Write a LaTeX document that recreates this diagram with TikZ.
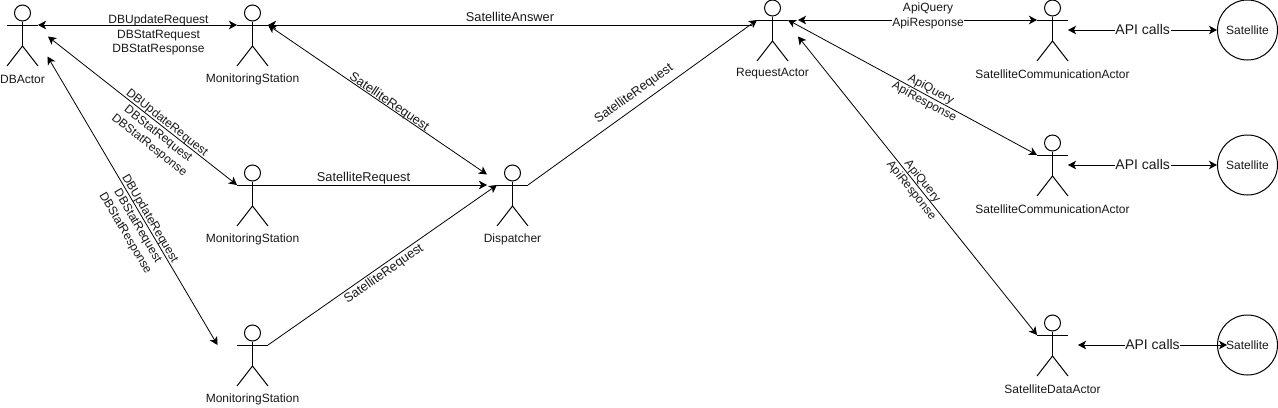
\documentclass[tikz,border=0pt]{standalone}
\usepackage{fontspec}
\setmainfont{Liberation Sans}
\usetikzlibrary{arrows.meta}
\tikzset{
  x=0.75pt,y=-0.75pt,
  every path/.style={line width=0.75pt},
  limb/.style={draw=black,line width=0.75pt},
  conn/.style={draw=black,line width=0.6pt},
  both/.style={conn,{Stealth[length=6pt,width=6.4pt,inset=1.6pt]}-{Stealth[length=6pt,width=6.4pt,inset=1.6pt]}},
  tipend/.style={conn,-{Stealth[length=6pt,width=6.4pt,inset=1.6pt]}},
  tipstart/.style={conn,{Stealth[length=6pt,width=6.4pt,inset=1.6pt]}-},
  head/.style={circle,draw=black,line width=0.75pt,minimum size=12pt,inner sep=0pt},
  txt/.style={inner sep=0pt,align=center,font=\fontsize{9}{10.7}\selectfont,text=black!90},
  bigtxt/.style={inner sep=0pt,align=center,font=\fontsize{9.6}{11}\selectfont,text=black!90},
  bgtxt/.style={txt,fill=white},
  apitxt/.style={inner sep=0.5pt,align=center,fill=white,font=\fontsize{10.5}{12}\selectfont,text=black!90},
  sat/.style={circle,draw=black,line width=0.75pt,minimum size=45pt,inner sep=0pt,font=\fontsize{9}{10.7}\selectfont,text=black!90},
}
% name, x of body, y of arms, label
\newcommand{\stickman}[4]{%
  \node[head] (#1) at (#2,#3-12) {};
  \coordinate (#1-l) at (#2-15.5,#3);
  \coordinate (#1-r) at (#2+15.5,#3);
  \coordinate (#1-hip) at (#2,#3+21);
  \draw[limb] (#1.south) -- (#1-hip);
  \draw[limb] (#1-l) -- (#1-r);
  \draw[limb] (#2-15.5,#3+41) -- (#1-hip) -- (#2+15.5,#3+41);
  \node[txt] (#1-label) at (#2,#3+54) {#4};
}
\begin{document}
\begin{tikzpicture}
\useasboundingbox (0,0) rectangle (1278,407);
\fill[white] (0,0) rectangle (1278,407);

\stickman{db}{22.5}{25}{DBActor}
\stickman{ms1}{252.5}{25}{MonitoringStation}
\stickman{ms2}{252.5}{185}{MonitoringStation}
\stickman{ms3}{252.5}{345}{MonitoringStation}
\stickman{disp}{512.5}{185}{Dispatcher}
\stickman{ra}{772.5}{20}{RequestActor}
\stickman{sca1}{1052.5}{20}{SatelliteCommunicationActor}
\stickman{sca2}{1052.5}{155}{SatelliteCommunicationActor}
\stickman{sda}{1052.5}{335}{SatelliteDataActor}

\node[sat] (s1) at (1247.5,30) {Satellite};
\node[sat] (s2) at (1247.5,165) {Satellite};
\node[sat] (s3) at (1247.5,345) {Satellite};

% free ends of connectors
\coordinate (dbB) at (48,36.5);
\coordinate (dbC) at (47.5,56.5);
\coordinate (ms2in) at (237,185);
\coordinate (ms3in) at (217.5,345);
\coordinate (dispA) at (487,174.5);
\coordinate (dispB) at (487,185);
\coordinate (raA) at (752,25);
\coordinate (ms1a) at (268,25);
\coordinate (raB) at (798,20);
\coordinate (raC) at (798,36.5);
\coordinate (sca1a) at (1068,30);
\coordinate (sca2a) at (1068,165);
\coordinate (sdaA) at (1078,345);
\coordinate (s1a) at (1217,30);
\coordinate (s2a) at (1217,165);
\coordinate (s3a) at (1227,345);

% connectors
\draw[both] (db-r) -- (ms1-l);
\draw[both] (dbB) -- (ms2in);
\draw[both] (dbC) -- (ms3in);
\draw[tipstart] (ms1a) -- (raA);
\draw[both] (ms1a) -- (dispA);
\draw[tipend] (ms2-r) -- (dispB);
\draw[tipend] (ms3-r) -- (disp-l);
\draw[tipend] (disp-r) -- (ra-l);
\draw[both] (raB) -- (sca1-l);
\draw[both] (ra-r) -- (sca2-l);
\draw[both] (raC) -- (sda-l);
\draw[both] (sca1a) -- (s1a);
\draw[both] (sca2a) -- (s2a);
\draw[both] (sdaA) -- (s3a);

% labels
\node[txt] (l1) at (158.5,35) {DBUpdateRequest\\DBStatRequest\\DBStatResponse};
\node[txt,rotate=-38.3] (l2) at (158,134) {DBUpdateRequest\\DBStatRequest\\DBStatResponse};
\node[txt,rotate=-59.6] (l3) at (137.5,226) {DBUpdateRequest\\DBStatRequest\\DBStatResponse};
\node[bigtxt] (l4) at (510,17) {SatelliteAnswer};
\node[bigtxt,rotate=-34.4] (l5) at (389,102) {SatelliteRequest};
\node[bigtxt] (l6) at (363.5,178.5) {SatelliteRequest};
\node[bigtxt,rotate=35] (l7) at (384,274) {SatelliteRequest};
\node[bigtxt,rotate=35.8] (l8) at (634,94) {SatelliteRequest};
\node[bgtxt] (l9) at (928,16) {ApiQuery\\ApiResponse};
\node[txt,rotate=-28.5] (l10) at (927.5,96) {ApiQuery\\ApiResponse};
\node[txt,rotate=-51.3] (l11) at (916.7,186) {ApiQuery\\ApiResponse};
\node[apitxt] (l12) at (1142.7,29.5) {API calls};
\node[apitxt] (l13) at (1142.7,164) {API calls};
\node[apitxt] (l14) at (1152.5,344) {API calls};
\end{tikzpicture}
\end{document}
